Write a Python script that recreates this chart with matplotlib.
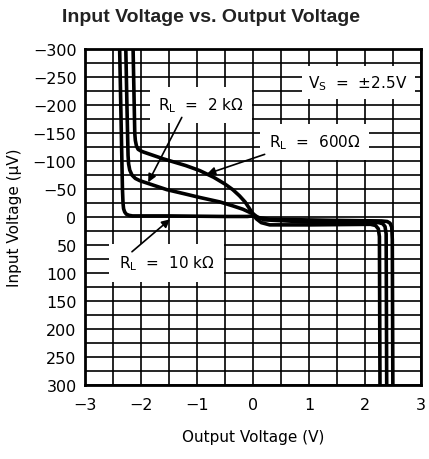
import numpy as np
import matplotlib
matplotlib.use("Agg")
import matplotlib.pyplot as plt

# ---------------------------------------------------------
# data (output V, input uV)
# ---------------------------------------------------------
x_10k = [-2.38, -2.35, -2.33, -2.32, -2.31, -2.29, -2.26, -2.21, -2.15, -1.5, -0.5, -0.1, 0.0, 0.1, 0.3, 1.5, 2.3, 2.40, 2.45, 2.48, 2.49, 2.50]
y_10k = [-300, -150, -50, -25, -15, -9, -5, -3, -2, -2, -1, -1, -2, 1, 4, 6, 7, 8, 11, 18, 40, 300]

x_2k = [-2.27, -2.25, -2.23, -2.22, -2.20, -2.16, -2.10, -2.02, -1.9, -1.54, -1.2, -0.95, -0.59, -0.36, -0.18, -0.05, 0.0, 0.08, 0.2, 1.0, 2.25, 2.32, 2.36, 2.38, 2.39]
y_2k = [-300, -200, -110, -95, -84, -75, -69, -65, -61, -49, -41, -35, -27, -20, -14, -8, -6, 0, 5, 9, 10, 12, 17, 30, 300]

x_600 = [-2.14, -2.12, -2.11, -2.10, -2.08, -2.05, -2.00, -1.95, -1.6, -1.2, -0.95, -0.7, -0.5, -0.36, -0.24, -0.14, -0.06, 0.0, 0.06, 0.15, 0.3, 1.0, 2.1, 2.19, 2.24, 2.26, 2.27]
y_600 = [-300, -200, -150, -137, -127, -121, -118, -116, -104, -92, -83, -71, -59, -49, -38, -27, -15, -6, 3, 10, 14, 14, 13, 15, 21, 35, 300]

fig = plt.figure(figsize=(4.29, 4.6), dpi=100)
ax = fig.add_axes([0.198, 0.161, 0.783, 0.730])

ax.set_xlim(-3, 3)
ax.set_ylim(300, -300)
ax.set_xticks(np.arange(-3, 4, 1))
ax.set_xticks(np.arange(-3, 3.01, 0.5), minor=True)
ax.set_yticks(np.arange(-300, 301, 50))
ax.set_yticks(np.arange(-300, 301, 25), minor=True)
ax.grid(True, which="both", color="black", linewidth=1.2, zorder=1)
ax.set_axisbelow(True)
ax.tick_params(which="both", length=0)
ax.tick_params(axis="x", pad=9, labelsize=11.5)
ax.tick_params(axis="y", pad=6, labelsize=11.5)
for s in ax.spines.values():
    s.set_linewidth(2)

for xs, ys in [(x_10k, y_10k), (x_2k, y_2k), (x_600, y_600)]:
    ax.plot(xs, ys, color="black", linewidth=2.6, solid_joinstyle="round",
            solid_capstyle="round", zorder=3)

# labels with white boxes
ax.text(1.88, -240, "V$_\\mathrm{S}$  =  ±2.5V", fontsize=11, ha="center", va="center",
        bbox=dict(facecolor="white", edgecolor="none", pad=5), zorder=4)
ax.text(-0.93, -200, "R$_\\mathrm{L}$  =  2 kΩ", fontsize=11, ha="center", va="center",
        bbox=dict(facecolor="white", edgecolor="none", pad=6), zorder=4)
ax.text(1.1, -134, "R$_\\mathrm{L}$  =  600Ω", fontsize=11, ha="center", va="center",
        bbox=dict(facecolor="white", edgecolor="none", pad=6), zorder=4)
ax.text(-1.54, 82, "R$_\\mathrm{L}$  =  10 kΩ", fontsize=11, ha="center", va="center",
        bbox=dict(facecolor="white", edgecolor="none", pad=7), zorder=4)

arrow = dict(arrowstyle="-|>", color="black", lw=1.2, mutation_scale=12, shrinkA=0, shrinkB=0)
ax.annotate("", xy=(-1.87, -62), xytext=(-1.27, -178), arrowprops=arrow, zorder=5)
ax.annotate("", xy=(-0.82, -77), xytext=(0.21, -112), arrowprops=arrow, zorder=5)
ax.annotate("", xy=(-1.48, 4), xytext=(-2.16, 62), arrowprops=arrow, zorder=5)

ax.set_xlabel("Output Voltage (V)", fontsize=11, labelpad=12)
ax.set_ylabel("Input Voltage (μV)", fontsize=11, labelpad=8)

fig.text(0.492, 0.963, "Input Voltage vs. Output Voltage", ha="center", va="center",
         fontsize=14, fontweight="bold", family="Liberation Sans", color="#222222")

fig.savefig("out.png", dpi=100)
